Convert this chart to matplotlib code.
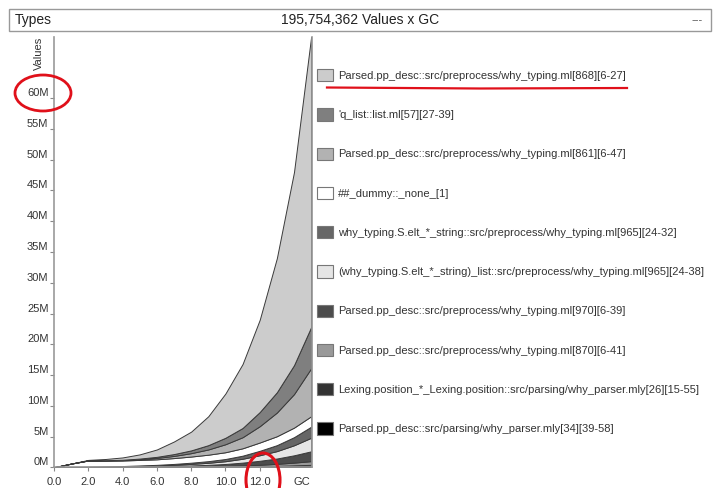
import matplotlib
matplotlib.use("Agg")
import matplotlib.pyplot as plt
from matplotlib.patches import Rectangle, Ellipse
from matplotlib.ticker import FuncFormatter

plt.rcParams['font.family'] = ['Liberation Sans', 'DejaVu Sans']

# GC ticks (x) and stacked values in millions, top layer first
gc = [0, 1, 2, 3, 4, 5, 6, 7, 8, 9, 10, 11, 12, 13, 14, 15]

labels = [
    "Parsed.pp_desc::src/preprocess/why_typing.ml[868][6-27]",
    "'q_list::list.ml[57][27-39]",
    "Parsed.pp_desc::src/preprocess/why_typing.ml[861][6-47]",
    "##_dummy::_none_[1]",
    "why_typing.S.elt_*_string::src/preprocess/why_typing.ml[965][24-32]",
    "(why_typing.S.elt_*_string)_list::src/preprocess/why_typing.ml[965][24-38]",
    "Parsed.pp_desc::src/preprocess/why_typing.ml[970][6-39]",
    "Parsed.pp_desc::src/preprocess/why_typing.ml[870][6-41]",
    "Lexing.position_*_Lexing.position::src/parsing/why_parser.mly[26][15-55]",
    "Parsed.pp_desc::src/parsing/why_parser.mly[34][39-58]",
]
colors = ["#cccccc", "#7f7f7f", "#b2b2b2", "#ffffff", "#666666",
          "#e5e5e5", "#4c4c4c", "#999999", "#333333", "#000000"]

l1 = [0, 0, 0.08, 0.19, 0.38, 0.68, 1.2, 2.05, 3.05, 4.7, 7.2, 10.4, 15.0, 21.8, 31.4, 47.2]
l2 = [0, 0, 0.01, 0.03, 0.05, 0.1, 0.18, 0.3, 0.45, 0.7, 1.05, 1.5, 2.3, 3.3, 4.7, 6.7]
l3 = [0, 0, 0.01, 0.03, 0.07, 0.12, 0.22, 0.35, 0.55, 0.85, 1.3, 1.8, 2.65, 3.85, 5.45, 7.8]
l4 = [0, 0.55, 1.0, 0.95, 0.9, 0.9, 0.9, 0.95, 1.0, 1.05, 1.1, 1.2, 1.35, 1.45, 1.55, 1.7]
l5 = [0, 0.01, 0.03, 0.04, 0.05, 0.08, 0.1, 0.15, 0.2, 0.27, 0.36, 0.5, 0.72, 0.97, 1.32, 1.8]
l6 = [0, 0.01, 0.03, 0.05, 0.07, 0.1, 0.13, 0.18, 0.25, 0.33, 0.45, 0.63, 0.9, 1.2, 1.63, 2.2]
l7 = [0, 0.01, 0.02, 0.03, 0.05, 0.07, 0.1, 0.13, 0.18, 0.24, 0.33, 0.46, 0.65, 0.87, 1.19, 1.6]
l8 = [0, 0.01, 0.01, 0.015, 0.02, 0.03, 0.04, 0.05, 0.07, 0.09, 0.12, 0.17, 0.24, 0.33, 0.44, 0.6]
l9 = [0, 0.005, 0.01, 0.01, 0.01, 0.015, 0.02, 0.03, 0.035, 0.05, 0.06, 0.09, 0.12, 0.16, 0.22, 0.3]
l10 = [0, 0.005, 0.005, 0.005, 0.005, 0.005, 0.01, 0.01, 0.015, 0.02, 0.03, 0.04, 0.05, 0.07, 0.1, 0.1]

layers = [l1, l2, l3, l4, l5, l6, l7, l8, l9, l10]

W, H = 717, 488
fig = plt.figure(figsize=(W / 100, H / 100), dpi=100)
ax = fig.add_axes([54 / W, (H - 467.3) / H, (312 - 54) / W, (467.3 - 36.7) / H])

# stack bottom-up
polys = ax.stackplot(gc, layers[::-1], colors=colors[::-1],
                     edgecolor="#3a3a3a", linewidth=0.7)

ax.set_xlim(0, 15.05)
ax.set_ylim(0, 70)
ax.set_xticks([0, 2, 4, 6, 8, 10, 12])
ax.xaxis.set_major_formatter(FuncFormatter(lambda v, p: f"{v:.1f}"))
ax.set_yticks(range(0, 61, 5))
ax.yaxis.set_major_formatter(FuncFormatter(lambda v, p: f"{int(v)}M"))
ax.tick_params(axis="both", colors="#888888", labelcolor="#333333",
               labelsize=8, length=3, width=0.8)
ax.tick_params(axis="y", pad=1)
ax.tick_params(axis="x", pad=4)
for t in ax.get_yticklabels():
    t.set_va("bottom")
ax.spines["top"].set_visible(False)
for side in ["left", "right", "bottom"]:
    ax.spines[side].set_color("#999999")
    ax.spines[side].set_linewidth(1.2)

ax.text(-0.04, 1.0, "Values", transform=ax.transAxes, rotation=90,
        ha="right", va="top", fontsize=8, color="#333333")
ax.text(0.96, -0.022, "GC", transform=ax.transAxes, ha="center", va="top",
        fontsize=8, color="#333333")

# legend, top layer first
handles = polys[::-1]
leg = fig.legend(handles, labels, loc="upper left",
                 bbox_to_anchor=(317 / W, 1 - 69 / H),
                 frameon=False, fontsize=8, handlelength=1.45,
                 handleheight=1.35, handletextpad=0.45, labelspacing=2.41,
                 borderpad=0, borderaxespad=0)
for h in leg.legend_handles:
    h.set_edgecolor("#777777")
    h.set_linewidth(0.8)
for t in leg.get_texts():
    t.set_color("#333333")

# overlay in pixel coordinates for header and annotations
ov = fig.add_axes([0, 0, 1, 1], zorder=10)
ov.set_xlim(0, W)
ov.set_ylim(H, 0)
ov.axis("off")
ov.patch.set_alpha(0)
ov.add_patch(Rectangle((9, 9), 702, 22, fill=False, edgecolor="#999999", lw=1))
ov.text(15, 20, "Types", ha="left", va="center", fontsize=10, color="#222222")
ov.text(360, 20, "195,754,362 Values x GC", ha="center", va="center",
        fontsize=10, color="#222222")
ov.text(703, 20, "---", ha="right", va="center", fontsize=8, color="#555555")

ov.add_patch(Ellipse((43, 93), 56, 36, fill=False, edgecolor="#e0101a", lw=2))
ov.plot([327, 480, 627], [87.5, 88.5, 88], color="#e0101a", lw=1.6)
ov.add_patch(Ellipse((263, 480), 34, 54, fill=False, edgecolor="#e0101a", lw=2.2))

fig.savefig("out.png", dpi=100)
